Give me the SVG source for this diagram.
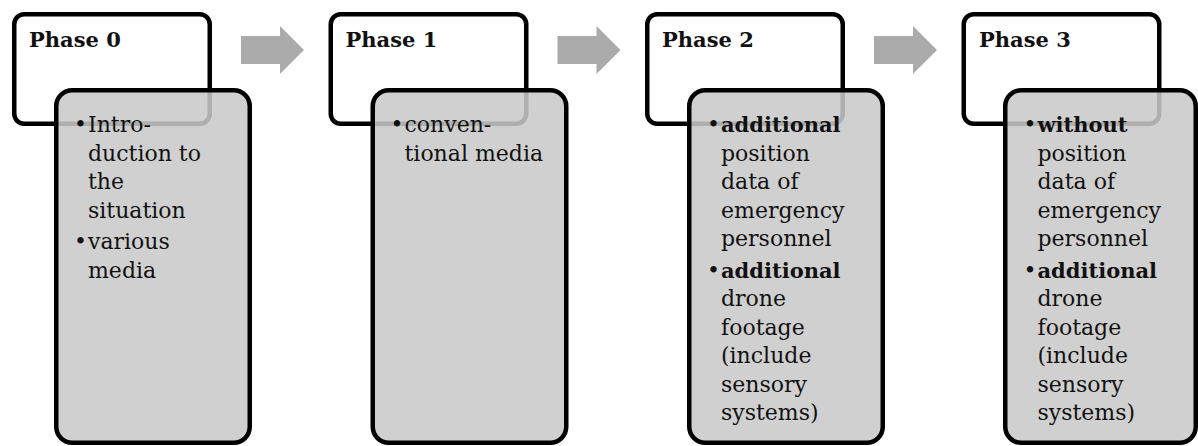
<svg xmlns="http://www.w3.org/2000/svg" width="1198" height="446" viewBox="0 0 1198 446">
<style>
.hdr{fill:#fff;stroke:#000;stroke-width:4.5}
.body{fill:rgb(201,201,201);fill-opacity:0.87;stroke:#000;stroke-width:4.5}
.arrow{fill:#ababab}
.title{font-family:"DejaVu Serif","Liberation Serif",serif;font-weight:bold;font-size:21px;fill:#111}
.txt{font-family:"DejaVu Serif","Liberation Serif",serif;font-size:22px;fill:#111}
.b{font-weight:bold;font-size:21px}
</style>
<rect width="1198" height="446" fill="#fff"/>
<g id="connectors">
  <polygon class="arrow" points="241,36 280,36 280,26 304,50 280,74 280,64 241,64"/>
  <polygon class="arrow" points="557.5,36 596.5,36 596.5,26 620.5,50 596.5,74 596.5,64 557.5,64"/>
  <polygon class="arrow" points="874,36 913,36 913,26 937,50 913,74 913,64 874,64"/>
</g>
<g id="phase0">
  <rect class="hdr" x="14.25" y="14.25" width="195.5" height="109.5" rx="10"/>
  <text class="title" x="29" y="47">Phase 0</text>
  <rect class="body" x="56.25" y="90.25" width="193.5" height="352.5" rx="16"/>
  <text class="txt" x="74" y="132">•</text>
  <text class="txt" x="88" y="132">Intro-</text>
  <text class="txt" x="88" y="160.5">duction to</text>
  <text class="txt" x="88" y="189">the</text>
  <text class="txt" x="88" y="217.5">situation</text>
  <text class="txt" x="74" y="249">•</text>
  <text class="txt" x="88" y="249">various</text>
  <text class="txt" x="88" y="277.5">media</text>
</g>
<g id="phase1">
  <rect class="hdr" x="330.75" y="14.25" width="195.5" height="109.5" rx="10"/>
  <text class="title" x="345.5" y="47">Phase 1</text>
  <rect class="body" x="372.75" y="90.25" width="193.5" height="352.5" rx="16"/>
  <text class="txt" x="390.5" y="132">•</text>
  <text class="txt" x="404.5" y="132">conven-</text>
  <text class="txt" x="404.5" y="160.5">tional media</text>
</g>
<g id="phase2">
  <rect class="hdr" x="647.25" y="14.25" width="195.5" height="109.5" rx="10"/>
  <text class="title" x="662" y="47">Phase 2</text>
  <rect class="body" x="689.25" y="90.25" width="193.5" height="352.5" rx="16"/>
  <text class="txt" x="707" y="132">•</text>
  <text class="txt" x="721" y="132"><tspan class="b">additional</tspan></text>
  <text class="txt" x="721" y="160.5">position</text>
  <text class="txt" x="721" y="189">data of</text>
  <text class="txt" x="721" y="217.5">emergency</text>
  <text class="txt" x="721" y="246">personnel</text>
  <text class="txt" x="707" y="277.5">•</text>
  <text class="txt" x="721" y="277.5"><tspan class="b">additional</tspan></text>
  <text class="txt" x="721" y="306">drone</text>
  <text class="txt" x="721" y="334.5">footage</text>
  <text class="txt" x="721" y="363">(include</text>
  <text class="txt" x="721" y="391.5">sensory</text>
  <text class="txt" x="721" y="420">systems)</text>
</g>
<g id="phase3">
  <rect class="hdr" x="963.75" y="14.25" width="195.5" height="109.5" rx="10"/>
  <text class="title" x="979" y="47">Phase 3</text>
  <rect class="body" x="1005.25" y="90.25" width="190.5" height="352.5" rx="16"/>
  <text class="txt" x="1023.5" y="132">•</text>
  <text class="txt" x="1037.5" y="132"><tspan class="b">without</tspan></text>
  <text class="txt" x="1037.5" y="160.5">position</text>
  <text class="txt" x="1037.5" y="189">data of</text>
  <text class="txt" x="1037.5" y="217.5">emergency</text>
  <text class="txt" x="1037.5" y="246">personnel</text>
  <text class="txt" x="1023.5" y="277.5">•</text>
  <text class="txt" x="1037.5" y="277.5"><tspan class="b">additional</tspan></text>
  <text class="txt" x="1037.5" y="306">drone</text>
  <text class="txt" x="1037.5" y="334.5">footage</text>
  <text class="txt" x="1037.5" y="363">(include</text>
  <text class="txt" x="1037.5" y="391.5">sensory</text>
  <text class="txt" x="1037.5" y="420">systems)</text>
</g>
</svg>
